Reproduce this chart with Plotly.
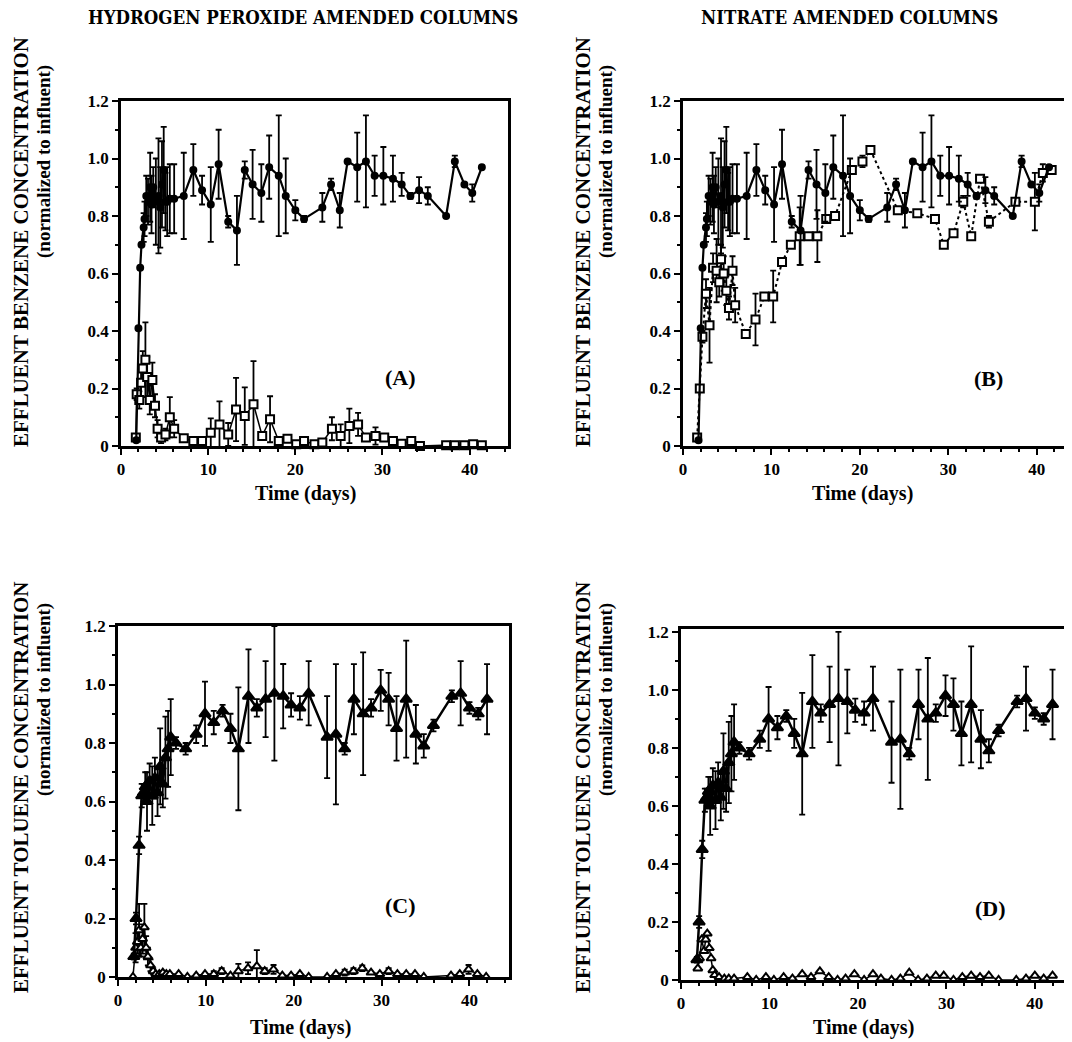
import plotly.graph_objects as go

# page size and the figure size (the page body adds an 8 px margin)
PAGE_OFF = 8
FW, FH = 1064, 1034

# ---------------- data ----------------
# Benzene, control-type series (filled circles) shown in panels A and B
benz_ctrl_days = [1.75, 2.0, 2.2, 2.35, 2.6, 2.7, 2.9, 3.1, 3.35, 3.5, 3.7, 4.0, 4.3, 4.5, 4.7, 4.9, 5.1, 5.3, 5.6,
                  6.1, 7.2, 8.3, 9.3, 10.3, 11.2, 12.3, 13.3, 14.2, 15.1, 16.1, 17.0, 18.1, 18.9, 20.0, 21.0,
                  23.1, 24.1, 25.1, 26.0, 27.1, 28.1, 29.1, 30.1, 31.2, 32.2, 33.2, 34.2, 35.2, 37.3, 38.3,
                  39.4, 40.3, 41.4]
benz_ctrl_vals = [0.02, 0.41, 0.62, 0.70, 0.76, 0.79, 0.87, 0.85, 0.90, 0.84, 0.90, 0.85, 0.87, 0.83, 0.91, 0.96,
                  0.85, 0.85, 0.86, 0.86, 0.87, 0.96, 0.89, 0.84, 0.98, 0.78, 0.75, 0.96, 0.91, 0.88, 0.97,
                  0.94, 0.87, 0.82, 0.79, 0.83, 0.91, 0.82, 0.99, 0.97, 0.99, 0.94, 0.94, 0.93, 0.91, 0.87,
                  0.89, 0.87, 0.80, 0.99, 0.91, 0.88, 0.97]
benz_ctrl_errs = [0.0, 0.0, 0.0, 0.0, 0.05, 0.06, 0.07, 0.08, 0.12, 0.10, 0.07, 0.15, 0.20, 0.14, 0.15, 0.15,
                  0.10, 0.12, 0.12, 0.12, 0.15, 0.09, 0.05, 0.13, 0.12, 0.02, 0.12, 0.03, 0.12, 0.10, 0.11,
                  0.21, 0.13, 0.035, 0.01, 0.05, 0.02, 0.06, 0.0, 0.12, 0.16, 0.07, 0.10, 0.08, 0.04, 0.01,
                  0.045, 0.03, 0.0, 0.02, 0.0, 0.03, 0.0]

# Benzene, hydrogen peroxide amended (open squares, panel A)
benz_h2o2_days = [1.7, 1.8, 2.1, 2.3, 2.5, 2.8, 3.0, 3.3, 3.6, 3.9, 4.2, 4.6, 5.1, 5.6, 6.1, 7.2, 8.3, 9.3,
                  10.3, 11.3, 12.3, 13.2, 14.2, 15.2, 16.2, 17.1, 18.1, 19.1, 20.1, 21.0, 22.2, 23.1, 24.2,
                  25.2, 26.2, 27.2, 28.1, 29.2, 30.2, 31.2, 32.2, 33.3, 34.3, 37.3, 38.3, 39.4, 40.4, 41.4]
benz_h2o2_vals = [0.03, 0.18, 0.16, 0.22, 0.27, 0.30, 0.24, 0.16, 0.23, 0.14, 0.06, 0.03, 0.04, 0.10, 0.06,
                  0.027, 0.017, 0.017, 0.046, 0.075, 0.04, 0.127, 0.104, 0.145, 0.035, 0.093, 0.017, 0.025,
                  0.006, 0.017, 0.006, 0.012, 0.06, 0.035, 0.07, 0.075, 0.03, 0.035, 0.03, 0.017, 0.008,
                  0.017, 0.0, 0.003, 0.003, 0.003, 0.006, 0.003]
benz_h2o2_errs = [0.0, 0.02, 0.03, 0.05, 0.06, 0.13, 0.07, 0.05, 0.06, 0.04, 0.03, 0.02, 0.02, 0.07, 0.03,
                  0.01, 0.0, 0.0, 0.05, 0.08, 0.04, 0.11, 0.10, 0.15, 0.01, 0.08, 0.01, 0.01, 0.0, 0.0,
                  0.0, 0.0, 0.04, 0.04, 0.06, 0.04, 0.01, 0.03, 0.01, 0.01, 0.0, 0.0, 0.0, 0.0, 0.0, 0.0,
                  0.0, 0.0]

# Benzene, nitrate amended (open squares, dotted line, panel B)
benz_no3_days = [1.6, 1.9, 2.2, 2.6, 3.0, 3.4, 3.8, 4.1, 4.3, 4.6, 4.9, 5.2, 5.6, 5.9, 7.1, 8.2, 9.2, 10.2,
                 11.2, 12.2, 13.2, 14.2, 15.2, 16.2, 17.2, 19.1, 20.3, 21.2, 24.3, 26.5, 28.5, 29.5, 30.6,
                 31.7, 32.6, 33.6, 34.6, 37.6, 39.8, 40.7, 41.7]
benz_no3_vals = [0.03, 0.20, 0.38, 0.53, 0.42, 0.62, 0.61, 0.57, 0.65, 0.60, 0.54, 0.48, 0.61, 0.49, 0.39,
                 0.44, 0.52, 0.52, 0.64, 0.70, 0.73, 0.73, 0.73, 0.79, 0.80, 0.96, 0.99, 1.03, 0.82, 0.81,
                 0.79, 0.70, 0.74, 0.85, 0.73, 0.93, 0.78, 0.85, 0.85, 0.95, 0.96]
benz_no3_errs = [0.0, 0.0, 0.02, 0.05, 0.13, 0.05, 0.11, 0.05, 0.05, 0.06, 0.05, 0.04, 0.05, 0.06, 0.01,
                 0.09, 0.01, 0.09, 0.01, 0.01, 0.10, 0.01, 0.09, 0.01, 0.01, 0.01, 0.02, 0.01, 0.01, 0.01,
                 0.01, 0.01, 0.01, 0.02, 0.01, 0.01, 0.02, 0.01, 0.10, 0.03, 0.01]

# Toluene, control-type series (filled triangles) shown in panels C and D
tol_ctrl_days = [1.8, 2.05, 2.4, 2.7, 2.9, 3.1, 3.3, 3.6, 3.9, 4.2, 4.5, 4.8, 5.1, 5.4, 5.7, 6.0, 6.6, 7.7,
                 8.9, 9.9, 10.9, 11.9, 12.8, 13.7, 14.85, 15.8, 16.8, 17.8, 18.8, 19.7, 20.7, 21.7, 23.8,
                 24.8, 25.8, 26.85, 27.9, 28.8, 29.9, 30.8, 31.7, 32.8, 33.9, 34.8, 35.9, 38.0, 39.0, 40.0,
                 41.0, 42.0]
tol_ctrl_vals = [0.07, 0.20, 0.45, 0.62, 0.63, 0.65, 0.60, 0.67, 0.62, 0.68, 0.63, 0.72, 0.66, 0.75, 0.78,
                 0.82, 0.80, 0.78, 0.83, 0.90, 0.87, 0.91, 0.85, 0.78, 0.96, 0.92, 0.95, 0.97, 0.96, 0.93,
                 0.92, 0.97, 0.82, 0.83, 0.78, 0.95, 0.90, 0.92, 0.98, 0.95, 0.85, 0.95, 0.83, 0.79, 0.86,
                 0.96, 0.97, 0.92, 0.90, 0.95]
tol_ctrl_errs = [0.01, 0.02, 0.03, 0.04, 0.03, 0.05, 0.10, 0.06, 0.10, 0.07, 0.08, 0.13, 0.08, 0.14, 0.13,
                 0.13, 0.02, 0.02, 0.03, 0.11, 0.04, 0.02, 0.05, 0.21, 0.16, 0.03, 0.13, 0.23, 0.11, 0.04,
                 0.04, 0.11, 0.14, 0.24, 0.02, 0.12, 0.21, 0.03, 0.07, 0.09, 0.11, 0.20, 0.10, 0.04, 0.02,
                 0.02, 0.11, 0.02, 0.02, 0.12]

# Toluene, hydrogen peroxide amended (open triangles, panel C)
tol_h2o2_days = [1.7, 1.85, 2.0, 2.2, 2.4, 2.6, 2.8, 3.0, 3.2, 3.4, 3.7, 4.0, 4.3, 4.7, 5.1, 5.5, 5.9, 6.9,
                 7.9, 8.9, 9.9, 10.9, 11.8, 12.8, 13.7, 14.8, 15.8, 16.7, 17.7, 18.7, 19.7, 20.7, 21.7,
                 23.8, 24.8, 25.8, 26.8, 27.8, 28.8, 29.8, 30.8, 31.8, 32.8, 33.8, 34.8, 37.9, 38.9, 39.9,
                 40.9, 41.9]
tol_h2o2_vals = [0.0, 0.07, 0.10, 0.12, 0.16, 0.10, 0.13, 0.17, 0.10, 0.07, 0.04, 0.02, 0.01, 0.01, 0.015,
                 0.01, 0.01, 0.01, 0.0, 0.005, 0.01, 0.01, 0.02, 0.005, 0.02, 0.03, 0.037, 0.02, 0.026,
                 0.005, 0.005, 0.01, 0.0, 0.0, 0.01, 0.015, 0.02, 0.03, 0.015, 0.01, 0.02, 0.01, 0.01,
                 0.01, 0.0, 0.005, 0.01, 0.026, 0.01, 0.0]
tol_h2o2_errs = [0.0, 0.01, 0.05, 0.04, 0.09, 0.03, 0.05, 0.08, 0.04, 0.03, 0.02, 0.01, 0.0, 0.0, 0.005,
                 0.0, 0.0, 0.0, 0.0, 0.0, 0.0, 0.01, 0.01, 0.0, 0.025, 0.02, 0.055, 0.01, 0.015, 0.0, 0.0,
                 0.0, 0.0, 0.0, 0.0, 0.01, 0.01, 0.01, 0.0, 0.0, 0.01, 0.0, 0.0, 0.0, 0.0, 0.0, 0.0,
                 0.015, 0.0, 0.0]

# Toluene, nitrate amended (open triangles, panel D)
tol_no3_days = [1.9, 2.1, 2.35, 2.6, 2.8, 2.97, 3.2, 3.4, 3.6, 3.8, 4.3, 4.9, 5.4, 6.0, 7.5, 8.5, 9.6, 10.5,
                11.6, 12.6, 13.7, 14.7, 15.7, 16.7, 17.7, 18.6, 19.6, 20.7, 21.7, 22.6, 23.8, 24.8, 25.8,
                26.8, 27.8, 28.8, 29.7, 30.8, 31.8, 32.8, 33.8, 34.8, 35.9, 37.9, 39.0, 40.0, 41.0, 42.0]
tol_no3_vals = [0.04, 0.075, 0.14, 0.10, 0.14, 0.16, 0.11, 0.075, 0.034, 0.017, 0.01, 0.005, 0.005, 0.005,
                0.01, 0.0, 0.01, 0.0, 0.01, 0.005, 0.02, 0.01, 0.03, 0.01, 0.0, 0.005, 0.02, 0.0, 0.02,
                0.005, 0.0, 0.005, 0.025, 0.0, 0.005, 0.015, 0.015, 0.0, 0.01, 0.015, 0.01, 0.015, 0.0,
                0.0, 0.005, 0.015, 0.005, 0.015]

x_ticks = [0, 10, 20, 30, 40]
y_ticks = [0, 0.2, 0.4, 0.6, 0.8, 1.0, 1.2]
y_tick_text = ["0", "0.2", "0.4", "0.6", "0.8", "1.0", "1.2"]

col_titles = ["HYDROGEN PEROXIDE AMENDED COLUMNS", "NITRATE AMENDED COLUMNS"]
row_titles = ["EFFLUENT BENZENE CONCENTRATION", "EFFLUENT TOLUENE CONCENTRATION"]
sub_title = "(normalized to influent)"
x_title = "Time (days)"
panel_labels = ["(A)", "(B)", "(C)", "(D)"]

# ---------------- layout helpers ----------------
SERIF = "Liberation Serif"
HEAD_FONT = "DejaVu Serif Condensed, Liberation Serif, serif"
BOLD = dict(family=SERIF, color="black", weight="bold")

def px_x(x):  # page pixel -> paper fraction
    return (x - PAGE_OFF) / FW

def px_y(y):
    return 1 - (y - PAGE_OFF) / FH

# panel geometry in page pixels: (x0, x1, ytop, ybottom, xmax, ymax, right_line)
panels = [
    (121, 508, 101, 446, 44.4, 1.2, True),
    (683, 1072, 101, 446, 44.0, 1.2, False),
    (118, 509, 626, 977, 44.5, 1.2, True),
    (681, 1072, 629, 980, 44.2, 1.21, False),
]

fig = go.Figure()
layout = dict(
    width=FW, height=FH, margin=dict(l=0, r=0, t=0, b=0, pad=0),
    paper_bgcolor="white", plot_bgcolor="white", showlegend=False,
    annotations=[],
)

for i, (x0, x1, yt, yb, xmax, ymax, rline) in enumerate(panels):
    n = "" if i == 0 else str(i + 1)
    layout["xaxis" + n] = dict(
        domain=[px_x(x0), min(1.0, px_x(x1))], range=[0, xmax], anchor="y" + n,
        showline=True, linecolor="black", linewidth=2.5, mirror=True, automargin=False,
        ticks="outside", ticklen=6, tickwidth=2, tickcolor="black",
        tickvals=x_ticks, tickfont=dict(size=17, **BOLD),
        minor=dict(dtick=2, ticks="outside", ticklen=3, tickwidth=1.5, tickcolor="black"),
        showgrid=False, zeroline=False,
    )
    layout["yaxis" + n] = dict(
        domain=[px_y(yb), px_y(yt)], range=[0, ymax], anchor="x" + n,
        showline=True, linecolor="black", linewidth=2.5, mirror=rline, automargin=False,
        ticks="outside", ticklen=6, tickwidth=2, tickcolor="black",
        tickvals=y_ticks, ticktext=y_tick_text, tickfont=dict(size=17, **BOLD),
        minor=dict(dtick=0.1, ticks="outside", ticklen=3, tickwidth=1.5, tickcolor="black"),
        showgrid=False, zeroline=False,
    )

def add_series(i, days, vals, errs, symbol, size, fill, dash, lw):
    n = "" if i == 0 else str(i + 1)
    fig.add_trace(go.Scatter(
        x=days, y=vals, mode="lines+markers",
        xaxis="x" + n, yaxis="y" + n, cliponaxis=False,
        line=dict(color="black", width=lw, dash=dash),
        marker=dict(symbol=symbol, size=size, color="black" if fill else "white",
                    line=dict(color="black", width=2)),
        error_y=None if errs is None else dict(type="data", array=errs, visible=True,
                                               color="black", thickness=1.8, width=3),
    ))

# Panel A
add_series(0, benz_h2o2_days, benz_h2o2_vals, benz_h2o2_errs, "square", 8, False, "solid", 1.5)
add_series(0, benz_ctrl_days, benz_ctrl_vals, benz_ctrl_errs, "circle", 6, True, "solid", 2.2)
# Panel B
add_series(1, benz_no3_days, benz_no3_vals, benz_no3_errs, "square", 8, False, "dot", 2)
add_series(1, benz_ctrl_days, benz_ctrl_vals, benz_ctrl_errs, "circle", 6, True, "solid", 2.2)
# Panel C
add_series(2, tol_h2o2_days, tol_h2o2_vals, tol_h2o2_errs, "triangle-up", 8, False, "solid", 1.5)
add_series(2, tol_ctrl_days, tol_ctrl_vals, tol_ctrl_errs, "triangle-up", 10, True, "solid", 2.5)
# Panel D
add_series(3, tol_no3_days, tol_no3_vals, None, "triangle-up", 8, False, "solid", 1.5)
add_series(3, tol_ctrl_days, tol_ctrl_vals, tol_ctrl_errs, "triangle-up", 10, True, "solid", 2.5)

ann = layout["annotations"]

def text_at(x, y, txt, size, bold=True, angle=0, family=SERIF):
    f = dict(family=family, size=size, color="black")
    if bold:
        f["weight"] = "bold"
    ann.append(dict(x=px_x(x), y=px_y(y), xref="paper", yref="paper", text=txt,
                    showarrow=False, font=f, textangle=angle,
                    xanchor="center", yanchor="middle"))

# column headings
text_at(303, 18, col_titles[0], 18.5, bold=True, family=HEAD_FONT)
text_at(849, 18, col_titles[1], 18.5, bold=True, family=HEAD_FONT)

# row (y-axis) titles
for xc in (21, 583):
    text_at(xc, 242, row_titles[0], 21, angle=-90)
    text_at(xc + 23, 162, sub_title, 19, angle=-90)
    text_at(xc, 787, row_titles[1], 21, angle=-90)
    text_at(xc + 23, 700, sub_title, 19, angle=-90)

# x-axis titles
text_at(305, 494, x_title, 20)
text_at(862, 494, x_title, 20)
text_at(300, 1027, x_title, 20)
text_at(863, 1027, x_title, 20)

# panel letters
text_at(400, 377, panel_labels[0], 22)
text_at(988, 378, panel_labels[1], 22)
text_at(400, 905, panel_labels[2], 22)
text_at(990, 908, panel_labels[3], 22)

fig.update_layout(**layout)
fig.write_html("out.html")
